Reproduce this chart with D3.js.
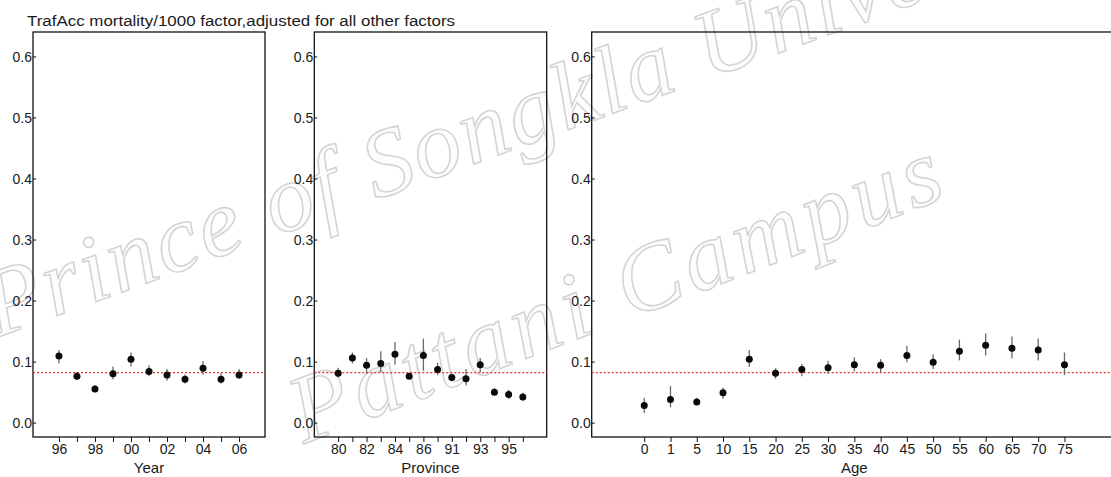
<!DOCTYPE html>
<html>
<head>
<meta charset="utf-8">
<script src="https://cdn.jsdelivr.net/npm/d3@7"></script>
<style>
  body { margin: 0; background: #fff; }
  svg text { font-family: "Liberation Sans", Arial, sans-serif; fill: #1a1a1a; }
  svg text.wm { font-family: "Liberation Serif", serif; font-style: italic; fill: #fdfdfd; stroke: #d4d4d4; stroke-width: 1.6; }
</style>
</head>
<body>
<svg id="chart" width="1111" height="477"></svg>
<script>
// data
const years      = ["96","97","98","99","00","01","02","03","04","05","06"];
const yearLabels = ["96","98","00","02","04","06"];
const yearEst    = [0.109,0.076,0.055,0.080,0.104,0.084,0.078,0.071,0.089,0.071,0.078];
const yearLo     = [0.097,0.070,0.050,0.071,0.092,0.076,0.069,0.064,0.079,0.064,0.072];
const yearHi     = [0.119,0.083,0.061,0.092,0.115,0.094,0.088,0.079,0.101,0.081,0.088];

const provinces  = ["80","81","82","83","84","85","86","90","91","92","93","94","95","96"];
const provLabels = ["80","82","84","86","91","93","95"];
const provEst    = [0.081,0.106,0.094,0.097,0.112,0.076,0.110,0.087,0.074,0.072,0.095,0.050,0.046,0.042];
const provLo     = [0.074,0.097,0.080,0.083,0.095,0.072,0.085,0.078,0.068,0.061,0.083,0.045,0.039,0.036];
const provHi     = [0.090,0.115,0.106,0.117,0.132,0.081,0.138,0.098,0.080,0.088,0.106,0.057,0.054,0.049];

const ages       = ["0","1","5","10","15","20","25","30","35","40","45","50","55","60","65","70","75"];
const ageEst     = [0.028,0.038,0.034,0.049,0.104,0.081,0.087,0.090,0.095,0.094,0.110,0.099,0.117,0.127,0.122,0.119,0.095];
const ageLo      = [0.016,0.025,0.029,0.039,0.091,0.072,0.076,0.080,0.084,0.083,0.099,0.088,0.102,0.110,0.105,0.102,0.078];
const ageHi      = [0.041,0.060,0.041,0.057,0.119,0.089,0.096,0.101,0.107,0.104,0.126,0.112,0.136,0.146,0.141,0.138,0.115];

const overall = 0.082;
const yTicks  = [0.0,0.1,0.2,0.3,0.4,0.5,0.6];

const svg = d3.select("#chart");

// watermark (sits under the plots)
svg.append("text").attr("class", "wm")
  .attr("transform", "translate(-4,338) rotate(-20)")
  .attr("textLength", 1180)
  .style("font-size", "96px")
  .text("Prince of Songkla University");
svg.append("text").attr("class", "wm")
  .attr("transform", "translate(304,444) rotate(-21)")
  .attr("textLength", 690)
  .style("font-size", "96px")
  .text("Pattani Campus");

const y = d3.scaleLinear().domain([-0.0235, 0.64]).range([437, 32]);

function panel(cats, labels, est, lo, hi, left, right, pad, title) {
  const x = d3.scalePoint().domain(cats).range([left, right]).padding(pad);
  const g = svg.append("g");

  // box
  g.append("rect")
    .attr("x", left).attr("y", y(0.64))
    .attr("width", right - left).attr("height", y(-0.0235) - y(0.64))
    .attr("fill", "none").attr("stroke", "#111").attr("stroke-width", 1.3);

  // y axis
  const ya = g.append("g").attr("transform", `translate(${left},0)`)
    .call(d3.axisRight(y).tickValues(yTicks).tickSize(3).tickFormat(d3.format(".1f")));
  ya.select(".domain").remove();
  ya.selectAll(".tick line").attr("stroke", "#111");
  ya.selectAll(".tick text")
    .attr("x", -1).attr("text-anchor", "end").attr("dy", "0.35em")
    .style("font-size", "14px").attr("fill", "#1a1a1a");

  // x axis
  const xa = g.append("g").attr("transform", `translate(0,${y(-0.0235)})`)
    .call(d3.axisBottom(x).tickSize(5).tickFormat(d => labels.includes(d) ? d : ""));
  xa.select(".domain").remove();
  xa.selectAll(".tick line").attr("stroke", "#111");
  xa.selectAll(".tick text").attr("dy", "0.78em").attr("y", 6)
    .style("font-size", "14px").attr("fill", "#1a1a1a");

  g.append("text")
    .attr("x", (left + right) / 2).attr("y", 473)
    .attr("text-anchor", "middle").style("font-size", "15px")
    .text(title);

  // overall reference line
  g.append("line")
    .attr("x1", left).attr("x2", right)
    .attr("y1", y(overall)).attr("y2", y(overall))
    .attr("stroke", "#e8302a").attr("stroke-width", 1.4)
    .attr("stroke-dasharray", "2,2");

  // error bars
  g.selectAll("line.err").data(cats).enter().append("line")
    .attr("class", "err")
    .attr("x1", d => x(d)).attr("x2", d => x(d))
    .attr("y1", (d, i) => y(lo[i])).attr("y2", (d, i) => y(hi[i]))
    .attr("stroke", "#6a6a6a").attr("stroke-width", 1.3);

  // points
  g.selectAll("circle.pt").data(cats).enter().append("circle")
    .attr("class", "pt")
    .attr("cx", d => x(d)).attr("cy", (d, i) => y(est[i]))
    .attr("r", 3.5).attr("fill", "#0a0a0a");
}

panel(years, yearLabels, yearEst, yearLo, yearHi, 33, 265, 1.44, "Year");
panel(provinces, provLabels, provEst, provLo, provHi, 314.3, 546.7, 1.68, "Province");
panel(ages, ages, ageEst, ageLo, ageHi, 591.7, 1117, 2, "Age");

svg.append("text")
  .attr("x", 27).attr("y", 26)
  .attr("textLength", 428)
  .attr("lengthAdjust", "spacingAndGlyphs")
  .style("font-size", "15.5px")
  .text("TrafAcc mortality/1000 factor,adjusted for all other factors");
</script>
</body>
</html>
